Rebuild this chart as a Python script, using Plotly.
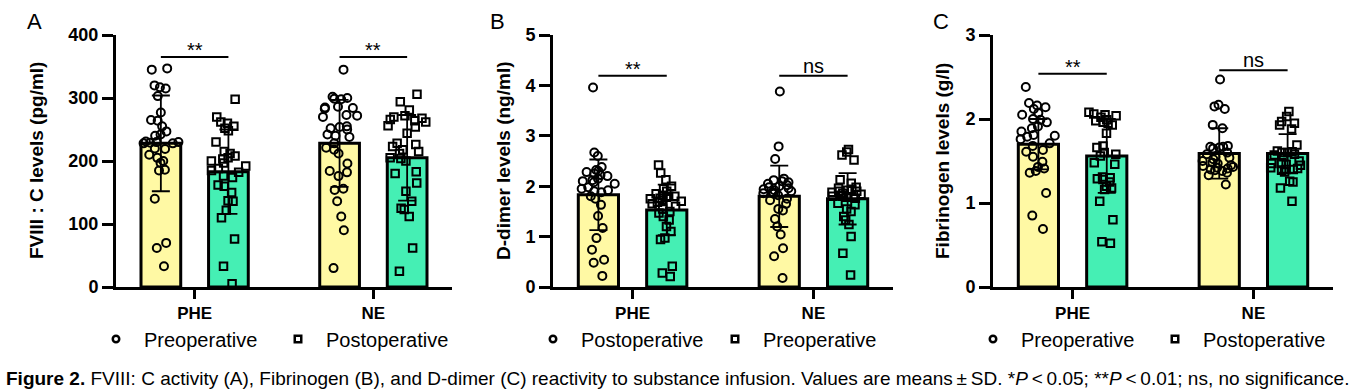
import plotly.graph_objects as go

# ---------------- data ----------------
categories = ["PHE", "NE"]

# Panel A: FVIII:C levels (pg/ml)
a_circ_phe = [347, 345, 320, 317, 315, 303, 277, 265, 264, 255, 247, 242, 240, 231, 230, 230,
              229, 228, 228, 220, 219, 210, 205, 200, 197, 186, 185, 140, 70, 62, 33]
a_circ_ne = [345, 302, 300, 299, 298, 286, 285, 284, 283, 273, 272, 270, 255, 254, 252, 250, 242,
             240, 238, 228, 221, 218, 212, 196, 184, 182, 176, 156, 154, 136, 112, 90, 30]
a_sq_phe = [298, 270, 262, 260, 255, 252, 248, 230, 215, 212, 208, 205, 203, 200, 197, 192,
            188, 185, 182, 176, 174, 162, 160, 150, 137, 136, 122, 110, 76, 33, 5]
a_sq_ne = [306, 294, 281, 272, 270, 268, 266, 264, 262, 256, 254, 244, 228, 226, 223, 218,
           215, 212, 205, 204, 200, 183, 180, 165, 152, 136, 125, 123, 112, 62, 25]
a_mean_circ = [228, 228]
a_sd_circ = [76, 69]
a_mean_sq = [183, 205]
a_sd_sq = [67, 68]

# Panel B: D-dimer levels (ng/ml)
b_circ_phe = [3.96, 2.67, 2.60, 2.38, 2.32, 2.30, 2.28, 2.25, 2.22, 2.20, 2.15, 2.12, 2.10, 2.08,
              2.05, 1.98, 1.95, 1.92, 1.90, 1.88, 1.80, 1.75, 1.63, 1.41, 1.17, 0.97, 0.74, 0.54,
              0.48, 0.22]
b_circ_ne = [3.88, 2.79, 2.54, 2.15, 2.12, 2.10, 2.08, 2.05, 2.02, 2.00, 1.98, 1.96, 1.94, 1.92,
             1.90, 1.88, 1.86, 1.85, 1.82, 1.75, 1.72, 1.65, 1.55, 1.52, 1.35, 1.20, 1.04, 0.77,
             0.61, 0.18]
b_sq_phe = [2.42, 2.26, 2.13, 2.00, 1.95, 1.90, 1.85, 1.82, 1.80, 1.80, 1.78, 1.76, 1.75, 1.72,
            1.70, 1.68, 1.65, 1.60, 1.55, 1.50, 1.47, 1.40, 1.33, 1.20, 1.10, 0.97, 0.94, 0.41,
            0.28, 0.21]
b_sq_ne = [2.73, 2.68, 2.62, 2.52, 2.13, 2.06, 1.98, 1.96, 1.94, 1.92, 1.90, 1.90, 1.88, 1.86,
           1.84, 1.82, 1.80, 1.80, 1.78, 1.76, 1.66, 1.63, 1.55, 1.50, 1.40, 1.33, 1.24, 1.00,
           0.67, 0.24]
b_mean_circ = [1.83, 1.80]
b_sd_circ = [0.70, 0.61]
b_mean_sq = [1.53, 1.75]
b_sd_sq = [0.50, 0.51]

# Panel C: Fibrinogen levels (g/l)
c_circ_phe = [2.38, 2.19, 2.16, 2.14, 2.12, 2.07, 2.05, 2.00, 1.99, 1.96, 1.91, 1.89, 1.85, 1.81,
              1.80, 1.79, 1.76, 1.71, 1.68, 1.63, 1.61, 1.55, 1.49, 1.43, 1.41, 1.38, 1.36, 1.12,
              0.85, 0.69]
c_circ_ne = [2.47, 2.17, 2.15, 2.12, 1.93, 1.89, 1.68, 1.67, 1.67, 1.66, 1.65, 1.60, 1.58, 1.55,
             1.54, 1.52, 1.50, 1.48, 1.47, 1.45, 1.44, 1.43, 1.42, 1.41, 1.40, 1.39, 1.38, 1.36,
             1.33, 1.22]
c_sq_phe = [2.08, 2.06, 2.05, 2.04, 2.02, 1.99, 1.98, 1.96, 1.95, 1.93, 1.83, 1.68, 1.66, 1.60,
            1.58, 1.56, 1.48, 1.46, 1.31, 1.30, 1.29, 1.28, 1.25, 1.20, 1.18, 1.16, 1.02, 0.80,
            0.54, 0.52]
c_sq_ne = [2.09, 2.03, 1.97, 1.95, 1.93, 1.88, 1.69, 1.62, 1.61, 1.60, 1.60, 1.58, 1.57, 1.55,
           1.50, 1.48, 1.47, 1.47, 1.46, 1.45, 1.42, 1.41, 1.40, 1.40, 1.39, 1.37, 1.26, 1.25,
           1.18, 1.02]
c_mean_circ = [1.70, 1.59]
c_sd_circ = [0.30, 0.30]
c_mean_sq = [1.56, 1.59]
c_sd_sq = [0.44, 0.23]

a_legend = ["Preoperative", "Postoperative"]
b_legend = ["Postoperative", "Preoperative"]
c_legend = ["Preoperative", "Postoperative"]

a_sig = ["**", "**"]
b_sig = ["**", "ns"]
c_sig = ["**", "ns"]

caption = ("<b>Figure 2.</b> FVIII: C activity (A), Fibrinogen (B), and D-dimer (C) reactivity to "
           "substance infusion. Values are means\u2009\u00b1\u2009SD. *<i>P</i>\u2009<\u20090.05; "
           "**<i>P</i>\u2009<\u20090.01; ns, no significance.")

# ---------------- style ----------------
W, H = 1354, 392
YELLOW = "#FFF9A4"
GREEN = "#45EFB4"
FONT = "Liberation Sans, Arial, Helvetica, sans-serif"
BARGAP = 0.244
GROUPGAP = 0.412
MT, MB = 35, 105
PLOT_H = H - MT - MB


def px_x(p):
    return p / W


def px_y(p):
    return (H - MB - p) / PLOT_H


panels = [
    dict(circ=(a_circ_phe, a_circ_ne), sq=(a_sq_phe, a_sq_ne), mc=a_mean_circ, sc=a_sd_circ,
         ms=a_mean_sq, ss=a_sd_sq, legend=a_legend, sig=a_sig, sig_y=[365, 365],
         yrange=[0, 400], dtick=100, title="FVIII : C levels (pg/ml)", letter="A",
         dom=(116, 452), title_x=36, letter_x=34),
    dict(circ=(b_circ_phe, b_circ_ne), sq=(b_sq_phe, b_sq_ne), mc=b_mean_circ, sc=b_sd_circ,
         ms=b_mean_sq, ss=b_sd_sq, legend=b_legend, sig=b_sig, sig_y=[4.19, 4.19],
         yrange=[0, 5], dtick=1, title="D-dimer levels (ng/ml)", letter="B",
         dom=(553, 893), title_x=503, letter_x=497),
    dict(circ=(c_circ_phe, c_circ_ne), sq=(c_sq_phe, c_sq_ne), mc=c_mean_circ, sc=c_sd_circ,
         ms=c_mean_sq, ss=c_sd_sq, legend=c_legend, sig=c_sig, sig_y=[2.54, 2.58],
         yrange=[0, 3], dtick=1, title="Fibrinogen levels (g/l)", letter="C",
         dom=(993, 1333), title_x=942, letter_x=941),
]

fig = go.Figure()
annotations = []
shapes = []
layout_axes = {}
half = (1 - BARGAP) / 4  # bar centre offset inside a category

for i, p in enumerate(panels):
    sfx = "" if i == 0 else str(i + 1)
    xa, ya = "x" + sfx, "y" + sfx
    lg = "legend" + sfx

    for means, sds, color, grp in (
        (p["mc"], p["sc"], YELLOW, "a"),
        (p["ms"], p["ss"], GREEN, "b"),
    ):
        fig.add_trace(go.Bar(
            x=categories, y=means, xaxis=xa, yaxis=ya, offsetgroup=grp,
            marker=dict(color=color, line=dict(color="black", width=3)),
            error_y=dict(type="data", array=sds, visible=True, color="black",
                         thickness=1.8, width=9),
            showlegend=False, hoverinfo="skip"))
    for key, sym, grp, size, name in (
        ("circ", "circle-open", "a", 8, p["legend"][0]),
        ("sq", "square-open", "b", 7.5, p["legend"][1]),
    ):
        vals_phe, vals_ne = p[key]
        fig.add_trace(go.Box(
            x=[categories[0]] * len(vals_phe) + [categories[1]] * len(vals_ne),
            y=list(vals_phe) + list(vals_ne), xaxis=xa, yaxis=ya, offsetgroup=grp,
            boxpoints="all", jitter=1, pointpos=0,
            marker=dict(symbol=sym, size=size, color="black", line=dict(width=2)),
            line=dict(color="rgba(0,0,0,0)", width=0), fillcolor="rgba(0,0,0,0)",
            showlegend=False, hoveron="points"))
        # legend-only entry
        fig.add_trace(go.Scatter(
            x=[None], y=[None], xaxis=xa, yaxis=ya, mode="markers", name=name, legend=lg,
            marker=dict(symbol=sym, size=6.5, color="black", line=dict(width=2.5)),
            showlegend=True))

    d0, d1 = p["dom"]
    layout_axes["xaxis" + sfx] = dict(
        domain=[px_x(d0), px_x(d1)], anchor=ya, type="category",
        categoryorder="array", categoryarray=categories, range=[-0.44, 1.44],
        showline=True, linecolor="black", linewidth=3, ticks="outside", ticklen=9,
        tickwidth=2.5, tickcolor="black", showgrid=False, zeroline=False,
        tickfont=dict(family=FONT, size=17, color="black", weight="bold"))
    layout_axes["yaxis" + sfx] = dict(
        domain=[0, 1], anchor=xa, range=p["yrange"], dtick=p["dtick"], tick0=0,
        showline=True, linecolor="black", linewidth=3, ticks="outside", ticklen=11,
        tickwidth=3, tickcolor="black", showgrid=False, zeroline=False,
        tickfont=dict(family=FONT, size=18, color="black", weight="bold"))
    layout_axes[lg] = dict(
        orientation="h", x=px_x(p["dom"][0] - 28), xanchor="left", y=px_y(339),
        yanchor="middle", font=dict(family=FONT, size=20, color="black"),
        bgcolor="rgba(0,0,0,0)", itemwidth=46, entrywidth=121, entrywidthmode="pixels",
        itemclick=False, itemdoubleclick=False)

    # significance brackets
    for j, cat in enumerate(categories):
        shapes.append(dict(type="line", xref=xa, yref=ya, x0=j - half, x1=j + half,
                           y0=p["sig_y"][j], y1=p["sig_y"][j],
                           line=dict(color="black", width=2)))
        annotations.append(dict(xref=xa, yref=ya, x=cat, y=p["sig_y"][j], text=p["sig"][j],
                                showarrow=False, yanchor="bottom",
                                yshift=-6 if p["sig"][j] == "**" else -3,
                                font=dict(family=FONT, size=20, color="black")))
    # y title
    annotations.append(dict(xref="paper", yref="paper", x=px_x(p["title_x"]), y=0.5,
                            text=p["title"], textangle=-90, showarrow=False,
                            xanchor="center", yanchor="middle",
                            font=dict(family=FONT, size=19, color="black", weight="bold")))
    # panel letter
    annotations.append(dict(xref="paper", yref="paper", x=px_x(p["letter_x"]), y=px_y(22),
                            text=p["letter"], showarrow=False, xanchor="center",
                            yanchor="middle", font=dict(family=FONT, size=22, color="black")))

annotations.append(dict(xref="paper", yref="paper", x=px_x(4), y=px_y(378), text=caption,
                        showarrow=False, xanchor="left", yanchor="middle",
                        font=dict(family=FONT, size=19, color="black")))

fig.update_layout(
    width=W, height=H, margin=dict(l=0, r=0, t=MT, b=MB),
    paper_bgcolor="white", plot_bgcolor="white",
    barmode="group", bargap=BARGAP, bargroupgap=GROUPGAP,
    boxmode="group", boxgap=BARGAP, boxgroupgap=GROUPGAP,
    annotations=annotations, shapes=shapes,
    font=dict(family=FONT, color="black"),
    **layout_axes)

fig.write_html("out.html", config={"displayModeBar": False},
               post_script="document.body.style.margin='0';document.body.style.overflow='hidden';")
